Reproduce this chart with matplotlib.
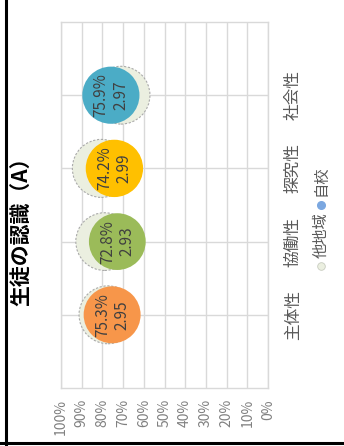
import matplotlib
matplotlib.use("Agg")
from matplotlib import pyplot as plt
from matplotlib.lines import Line2D

plt.rcParams['font.family'] = ['Noto Sans CJK JP', 'DejaVu Sans']

categories = ["主体性", "協働性", "探究性", "社会性"]
own_pct = [75.3, 72.8, 74.2, 75.9]
own_score = [2.95, 2.93, 2.99, 2.97]
other_pct = [77.3, 78.9, 80.5, 71.0]
other_score = [3.05, 3.03, 3.06, 3.04]
own_colors = ["#F7964A", "#9BBB59", "#FFC000", "#4BACC6"]
ticks = [0, 10, 20, 30, 40, 50, 60, 70, 80, 90, 100]

W, H = 344, 446
fig = plt.figure(figsize=(W / 100, H / 100), dpi=100)

def fx(px):
    return px / W

def fy(py):
    return 1 - py / H

ax = fig.add_axes([fx(61), fy(388), fx(268) - fx(61), fy(22) - fy(388)])
ax.set_xlim(100, 0)
ax.set_ylim(0, 5)

ypos = list(range(1, len(categories) + 1))
k = 570
ax.scatter(other_pct, ypos, s=[v * k for v in other_score], color="#EBEFE0",
           edgecolor="#AAAAAA", linewidth=0.8, linestyle=(0, (2, 1.5)), zorder=2)
ax.scatter(own_pct, ypos, s=[v * k for v in own_score], color=own_colors,
           linewidth=0, zorder=3)
for p, sc, y in zip(own_pct, own_score, ypos):
    ax.text(p, y, f"{p}%\n{sc:.2f}", rotation=90, ha="center", va="center",
            fontsize=11, color="#404040", linespacing=1.2, zorder=4)

ax.set_xticks(ticks)
ax.set_xticklabels([f"{t}%" for t in ticks], rotation=90, fontsize=10, color="#808080")
ax.set_yticks(ypos)
ax.set_yticklabels(categories, rotation=90, fontsize=12, color="#595959", va="center")
ax.yaxis.tick_right()
ax.tick_params(axis="x", length=0, pad=8)
ax.tick_params(axis="y", length=0, pad=12)
ax.grid(True, color="#D9D9D9", linewidth=1.0)
ax.set_axisbelow(True)
for s in ax.spines.values():
    s.set_color("#D9D9D9")
    s.set_linewidth(1.0)

fig.text(fx(21), fy(226), "生徒の認識（A）", rotation=90, ha="center", va="center",
         fontsize=15, fontweight="bold", color="#000000")

# legend
fig.add_artist(Line2D([fx(321)], [fy(266)], marker="o", markersize=5.5, color="#EBEFE0",
                      markeredgecolor="#C8CCC0", markeredgewidth=0.6, linestyle="none",
                      transform=fig.transFigure))
fig.text(fx(321), fy(258), "他地域", rotation=90, ha="center", va="bottom",
         fontsize=11, color="#595959")
fig.add_artist(Line2D([fx(321)], [fy(205)], marker="o", markersize=5.5, color="#7BA7E0",
                      linestyle="none", transform=fig.transFigure))
fig.text(fx(321), fy(196), "自校", rotation=90, ha="center", va="bottom",
         fontsize=11, color="#595959")

# frame lines
fig.add_artist(Line2D([fx(5.5), fx(5.5)], [0, 1], color="black", linewidth=2.2,
                      transform=fig.transFigure))
fig.add_artist(Line2D([0, 1], [fy(443), fy(443)], color="black", linewidth=2.2,
                      transform=fig.transFigure))

fig.savefig("out.png", dpi=100)
